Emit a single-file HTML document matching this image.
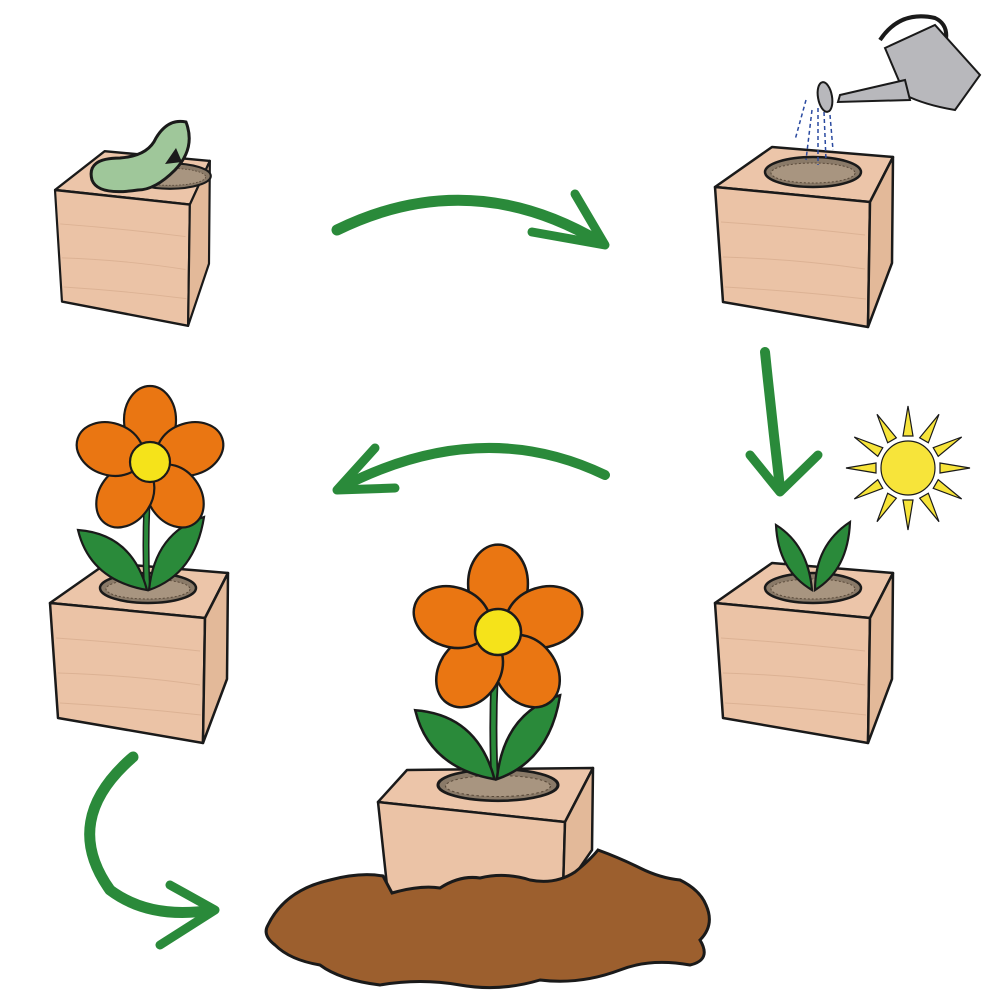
<!DOCTYPE html>
<html><head><meta charset="utf-8"><style>html,body{margin:0;padding:0;background:#fff}svg{display:block}</style></head>
<body>
<svg width="1000" height="1000" viewBox="0 0 1000 1000" xmlns="http://www.w3.org/2000/svg">
<defs>
<g id="cube" stroke="#1a1a1a" stroke-width="2.5" stroke-linejoin="round">
  <polygon points="0,0 57,-40 178,-30 155,15" fill="#ecc5a9"/>
  <polygon points="0,0 155,15 153,140 8,115" fill="#ebc3a6"/>
  <polygon points="155,15 178,-30 177,76 153,140" fill="#e3b999"/>
  <path d="M6,35 Q80,40 150,48 M8,70 Q80,72 150,82 M10,100 Q80,104 151,112" stroke="#dcb294" stroke-width="1" fill="none"/>
</g>
<g id="hole">
  <ellipse cx="0" cy="0" rx="48" ry="15" fill="#8a7a68" stroke="#1a1a1a" stroke-width="2.5"/>
  <ellipse cx="0" cy="1" rx="42" ry="10" fill="#a89580" stroke="#5a4a3a" stroke-width="1" stroke-dasharray="2 2"/>
</g>
<g id="flower" stroke="#1a1a1a" stroke-width="2.2">
  <path d="M0,0 Q-6,60 -3,128" stroke="#1a1a1a" stroke-width="7" fill="none"/>
  <path d="M0,0 Q-6,60 -3,128" stroke="#2a8a3a" stroke-width="4" fill="none"/>
  <path d="M-3,128 Q-60,118 -72,68 Q-18,72 -3,128Z" fill="#2a8a3a"/>
  <path d="M-1,128 Q45,112 54,55 Q5,70 -1,128Z" fill="#2a8a3a"/>
  <ellipse cx="0" cy="-42" rx="26" ry="34" fill="#ea7612"/>
  <ellipse cx="0" cy="-42" rx="26" ry="34" fill="#ea7612" transform="rotate(72)"/>
  <ellipse cx="0" cy="-42" rx="26" ry="34" fill="#ea7612" transform="rotate(144)"/>
  <ellipse cx="0" cy="-42" rx="26" ry="34" fill="#ea7612" transform="rotate(216)"/>
  <ellipse cx="0" cy="-42" rx="26" ry="34" fill="#ea7612" transform="rotate(288)"/>
  <circle cx="0" cy="0" r="20" fill="#f5e31a"/>
</g>
</defs>

<!-- cube 1 with seed -->
<g transform="translate(55,190) scale(0.87,0.97)"><use href="#cube"/></g>
<g transform="translate(170,176) scale(0.85)"><use href="#hole"/></g>
<path d="M92,180 Q86,158 120,158 Q148,156 156,138 Q168,118 186,122 Q196,148 175,170 Q155,190 138,190 Q98,196 92,180Z" fill="#9fc79a" stroke="#1a1a1a" stroke-width="3"/>
<path d="M176,148 L165,164 L182,162Z" fill="#1a1a1a"/>

<!-- cube 2 watering -->
<g transform="translate(715,187)"><use href="#cube"/></g>
<g transform="translate(813,172)"><use href="#hole"/></g>
<g stroke="#2a4aa0" stroke-width="1.5" stroke-dasharray="4 3" fill="none">
<path d="M806,100 L795,140"/><path d="M812,110 L806,160"/><path d="M818,108 L818,165"/><path d="M824,112 L826,160"/><path d="M830,115 L833,150"/>
</g>
<g stroke="#1a1a1a" stroke-width="2" fill="#b8b8bc">
<path d="M880,40 Q900,10 935,18 Q950,25 945,45" fill="none" stroke-width="4"/>
<path d="M885,48 L935,25 L980,75 L955,110 Q925,105 905,95 Z"/>
<path d="M905,80 L840,95 L838,102 L910,100 Z"/>
<ellipse cx="825" cy="97" rx="7" ry="15" transform="rotate(-10 825 97)"/>
</g>

<!-- cube 3 sprout -->
<g transform="translate(715,603)"><use href="#cube"/></g>
<g transform="translate(813,588)"><use href="#hole"/></g>
<g stroke="#1a1a1a" stroke-width="2.2" fill="#2a8a3a">
<path d="M812,590 Q778,570 776,525 Q808,545 812,590Z"/>
<path d="M815,590 Q848,570 850,522 Q815,545 815,590Z"/>
</g>

<!-- sun -->
<g stroke="#1a1a1a" stroke-width="1.2" fill="#f7e43a">
<g transform="translate(908,468)">
<polygon points="0,-62 5,-32 -5,-32"/>
<polygon points="0,-62 5,-32 -5,-32" transform="rotate(30)"/>
<polygon points="0,-62 5,-32 -5,-32" transform="rotate(60)"/>
<polygon points="0,-62 5,-32 -5,-32" transform="rotate(90)"/>
<polygon points="0,-62 5,-32 -5,-32" transform="rotate(120)"/>
<polygon points="0,-62 5,-32 -5,-32" transform="rotate(150)"/>
<polygon points="0,-62 5,-32 -5,-32" transform="rotate(180)"/>
<polygon points="0,-62 5,-32 -5,-32" transform="rotate(210)"/>
<polygon points="0,-62 5,-32 -5,-32" transform="rotate(240)"/>
<polygon points="0,-62 5,-32 -5,-32" transform="rotate(270)"/>
<polygon points="0,-62 5,-32 -5,-32" transform="rotate(300)"/>
<polygon points="0,-62 5,-32 -5,-32" transform="rotate(330)"/>
<circle r="27"/>
</g></g>

<!-- cube 4 flower -->
<g transform="translate(50,603)"><use href="#cube"/></g>
<g transform="translate(148,588)"><use href="#hole"/></g>
<g transform="translate(150,462)"><use href="#flower"/></g>

<!-- cube 5 -->
<g stroke="#1a1a1a" stroke-width="2.5" stroke-linejoin="round">
  <polygon points="378,802 407,770 593,768 565,822" fill="#ecc5a9"/>
  <polygon points="378,802 565,822 563,892 388,895" fill="#ebc3a6"/>
  <polygon points="565,822 593,768 592,850 563,892" fill="#e3b999"/>
</g>
<g transform="translate(498,785) scale(1.25,1.05)"><use href="#hole"/></g>
<g transform="translate(498,632) scale(1.15)"><use href="#flower"/></g>

<!-- soil -->
<path d="M268,925 Q285,890 330,880 Q360,872 383,876 L392,893 Q420,885 440,888 Q460,875 480,878 Q505,872 530,880 Q555,885 575,872 Q590,860 598,850 Q620,858 640,868 Q660,878 680,880 Q700,890 706,905 Q715,925 700,940 Q712,960 690,965 Q650,958 620,970 Q580,985 540,980 Q500,992 460,985 Q420,978 380,985 Q340,980 320,965 Q290,960 275,945 Q262,935 268,925Z" fill="#9c5f2e" stroke="#1a1a1a" stroke-width="3"/>

<!-- arrows -->
<g fill="none" stroke="#2a8a3a" stroke-linecap="round" stroke-linejoin="round">
<path d="M337,230 Q470,165 600,242" stroke-width="11"/>
<path d="M575,194 L605,245 L532,232" stroke-width="9"/>
<path d="M765,352 Q772,420 780,488" stroke-width="10"/>
<path d="M750,455 L780,492 L818,455" stroke-width="9"/>
<path d="M605,475 Q480,415 340,488" stroke-width="10"/>
<path d="M375,448 L337,490 L395,488" stroke-width="9"/>
<path d="M133,757 Q60,820 110,890 Q150,920 212,910" stroke-width="11"/>
<path d="M170,885 L215,910 L160,945" stroke-width="9"/>
</g>
</svg>
</body></html>
